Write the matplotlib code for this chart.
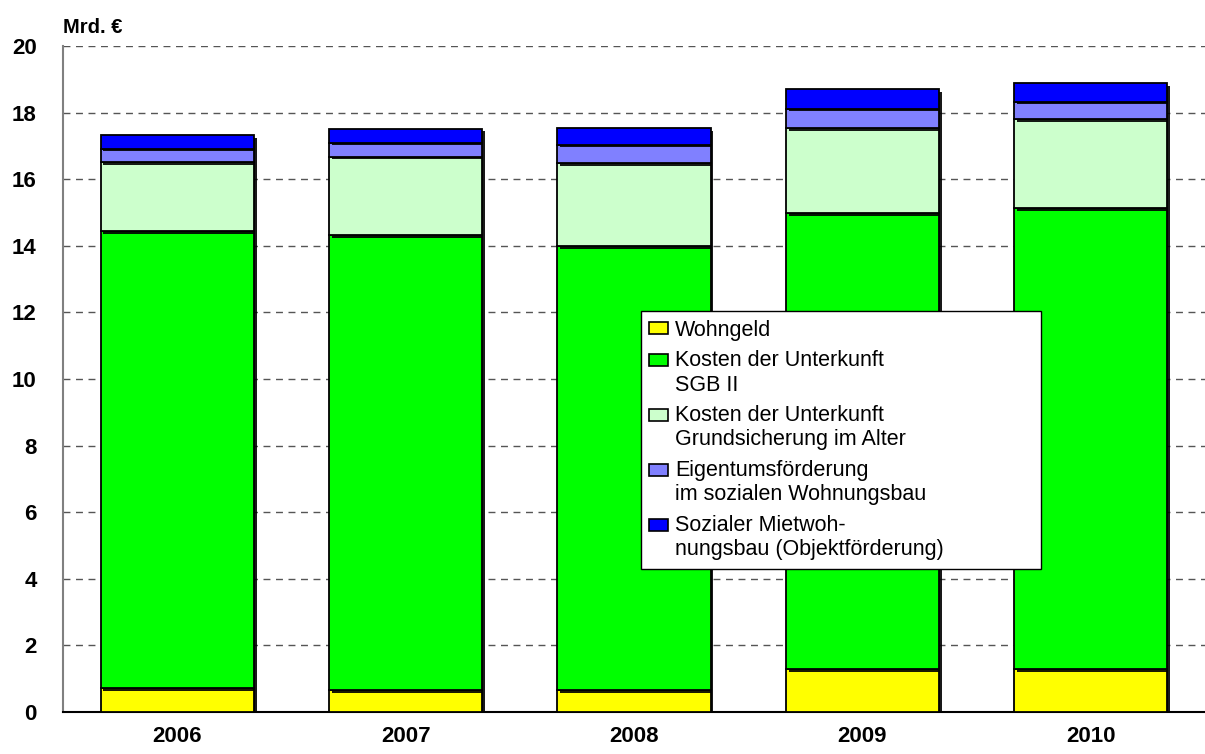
import matplotlib
matplotlib.use("Agg")
import matplotlib.pyplot as plt
import matplotlib.patheffects as pe
from matplotlib.patches import Rectangle
from matplotlib.legend_handler import HandlerPatch
import numpy as np

plt.rcParams['font.family'] = ['Liberation Sans', 'DejaVu Sans']

# --- Daten (Mrd. €) ---
jahre = ["2006", "2007", "2008", "2009", "2010"]
wohngeld = [0.72, 0.66, 0.65, 1.29, 1.29]
kdu_sgb2 = [13.72, 13.66, 13.34, 13.69, 13.84]
kdu_grundsicherung = [2.08, 2.36, 2.50, 2.56, 2.68]
eigentum = [0.40, 0.42, 0.55, 0.58, 0.52]
sozial_miet = [0.40, 0.42, 0.49, 0.58, 0.55]

serien = [wohngeld, kdu_sgb2, kdu_grundsicherung, eigentum, sozial_miet]
farben = ["#FFFF00", "#00FF00", "#CCFFCC", "#8080FF", "#0000FF"]
labels = ["Wohngeld",
          "Kosten der Unterkunft\nSGB II",
          "Kosten der Unterkunft\nGrundsicherung im Alter",
          "Eigentumsförderung\nim sozialen Wohnungsbau",
          "Sozialer Mietwoh-\nnungsbau (Objektförderung)"]


class HandlerOben(HandlerPatch):
    # Legendenkästchen an der ersten Zeile ausrichten
    def __init__(self, shift=0.0, **kw):
        super().__init__(**kw)
        self.shift = shift

    def create_artists(self, legend, orig_handle, xdescent, ydescent,
                       width, height, fontsize, trans):
        p = Rectangle((-xdescent, -ydescent + self.shift * fontsize), width, height)
        self.update_prop(p, orig_handle, legend)
        p.set_transform(trans)
        return [p]


fig, ax = plt.subplots(figsize=(12.05, 7.54), dpi=100)
fig.subplots_adjust(left=0.0523, right=1.0, top=0.939, bottom=0.0557)

x = np.arange(len(jahre))
unten = np.zeros(len(jahre))
schatten = [pe.SimplePatchShadow(offset=(2, -2), shadow_rgbFace='black', alpha=0.9), pe.Normal()]
for werte, farbe in zip(serien, farben):
    ax.bar(x, werte, width=0.67, bottom=unten, color=farbe, edgecolor='black',
           linewidth=1.3, zorder=3, path_effects=schatten)
    unten += np.array(werte)

ax.set_xlim(-0.5, 4.5)
ax.set_ylim(0, 20)
ax.set_yticks(np.arange(0, 21, 2))
ax.set_xticks(x)
ax.set_xticklabels(jahre)
ax.tick_params(axis='both', length=0, labelsize=16)
ax.tick_params(axis='y', pad=19)
ax.tick_params(axis='x', pad=10)
for t in ax.get_xticklabels() + ax.get_yticklabels():
    t.set_fontweight('bold')

ax.grid(axis='y', linestyle=(0, (5, 4)), color='#555555', linewidth=1, zorder=0)
ax.spines['top'].set_visible(False)
ax.spines['right'].set_visible(False)
ax.spines['left'].set_color('#808080')
ax.spines['left'].set_linewidth(1.5)
ax.spines['bottom'].set_color('black')
ax.spines['bottom'].set_linewidth(1.5)

ax.text(0.0, 1.02, "Mrd. €", transform=ax.transAxes, ha='left', va='baseline',
        fontsize=14.5, fontweight='bold')

handles = [Rectangle((0, 0), 1, 1, facecolor=f, edgecolor='black', linewidth=1.2) for f in farben]
hmap = {h: HandlerOben(shift=(0.6 if "\n" in l else 0.0)) for h, l in zip(handles, labels)}
leg = ax.legend(handles, labels, loc='upper left', bbox_to_anchor=(0.506, 0.198, 0.350, 0.404),
                mode='expand', borderaxespad=0, fontsize=15.5, handlelength=0.85,
                handleheight=0.48, handletextpad=0.35, labelspacing=0.45, borderpad=0.4,
                fancybox=False, framealpha=1, edgecolor='black', handler_map=hmap)
leg.get_frame().set_linewidth(1.0)
leg.set_zorder(5)

fig.savefig("out.png", dpi=100)
